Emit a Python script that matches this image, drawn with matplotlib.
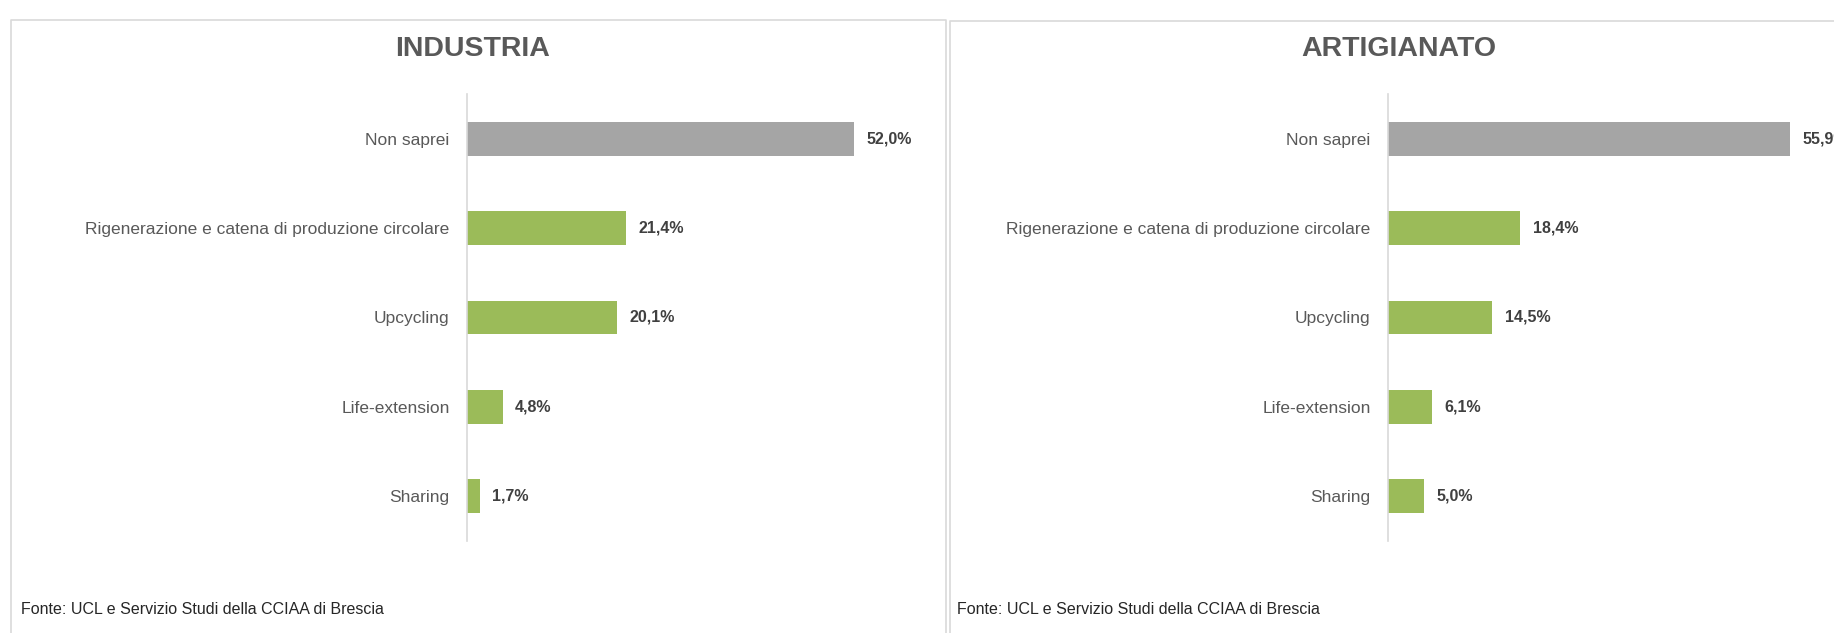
"""
Bar charts: circular-economy practices, Industria vs Artigianato.
"""

import matplotlib.pyplot as plt
from matplotlib.lines import Line2D

categories = [
    "Non saprei",
    "Rigenerazione e catena di produzione circolare",
    "Upcycling",
    "Life-extension",
    "Sharing",
]
industria_values = [52.0, 21.4, 20.1, 4.8, 1.7]
artigianato_values = [55.9, 18.4, 14.5, 6.1, 5.0]
panel_titles = ["INDUSTRIA", "ARTIGIANATO"]
source_note = "Fonte: UCL e Servizio Studi della CCIAA di Brescia"

GRAY_BAR = "#A5A5A5"
GREEN_BAR = "#9BBB59"
TEXT_GRAY = "#595959"
LABEL_DARK = "#404040"
BORDER = "#D9D9D9"

W, H = 1834, 633
plt.rcParams["font.family"] = ["Liberation Sans", "DejaVu Sans"]

fig = plt.figure(figsize=(W / 100, H / 100), dpi=100)


def fx(px):
    return px / W


def fy(py):
    return 1 - py / H


def draw_panel(ax, values, title, title_x):
    colors = [GRAY_BAR] + [GREEN_BAR] * (len(values) - 1)
    y = list(range(len(values)))
    ax.barh(y, values, height=0.38, color=colors)
    ax.set_xlim(0, 60)
    ax.set_ylim(len(values) - 0.5, -0.5)
    ax.set_yticks(y)
    ax.set_yticklabels(categories, fontsize=12.5, color=TEXT_GRAY)
    ax.tick_params(axis="y", length=0, pad=12.5)
    ax.set_xticks([])
    for side in ["top", "right", "bottom"]:
        ax.spines[side].set_visible(False)
    ax.spines["left"].set_color(BORDER)
    ax.spines["left"].set_linewidth(1.2)
    for yi, v in zip(y, values):
        ax.annotate(
            f"{v:.1f}%".replace(".", ","),
            xy=(v, yi),
            xytext=(9, 0),
            textcoords="offset points",
            va="center",
            ha="left",
            fontsize=11.5,
            fontweight="bold",
            color=LABEL_DARK,
            annotation_clip=False,
        )
    fig.text(fx(title_x), fy(49), title, ha="center", va="center",
             fontsize=20.5, fontweight="bold", color=TEXT_GRAY)


# axes placed in pixel terms: top 94, bottom 541
ax_top, ax_bot = 94, 541
ax1 = fig.add_axes([fx(467), fy(ax_bot), fx(60 * 7.44), (ax_bot - ax_top) / H])
ax2 = fig.add_axes([fx(1388), fy(ax_bot), fx(60 * 7.19), (ax_bot - ax_top) / H])

draw_panel(ax1, industria_values, panel_titles[0], 473)
draw_panel(ax2, artigianato_values, panel_titles[1], 1399)

fig.text(fx(21), fy(609), source_note, ha="left", va="center", fontsize=11.5, color="#262626")
fig.text(fx(957), fy(609), source_note, ha="left", va="center", fontsize=11.5, color="#262626")

# panel borders
for xs, ys in [
    ([11, 11, 946, 946], [H, 20, 20, H]),
    ([950, 950, W], [H, 21, 21]),
]:
    fig.add_artist(Line2D([fx(v) for v in xs], [fy(v) for v in ys],
                          color=BORDER, linewidth=1.2))

fig.savefig("out.png", dpi=100)
